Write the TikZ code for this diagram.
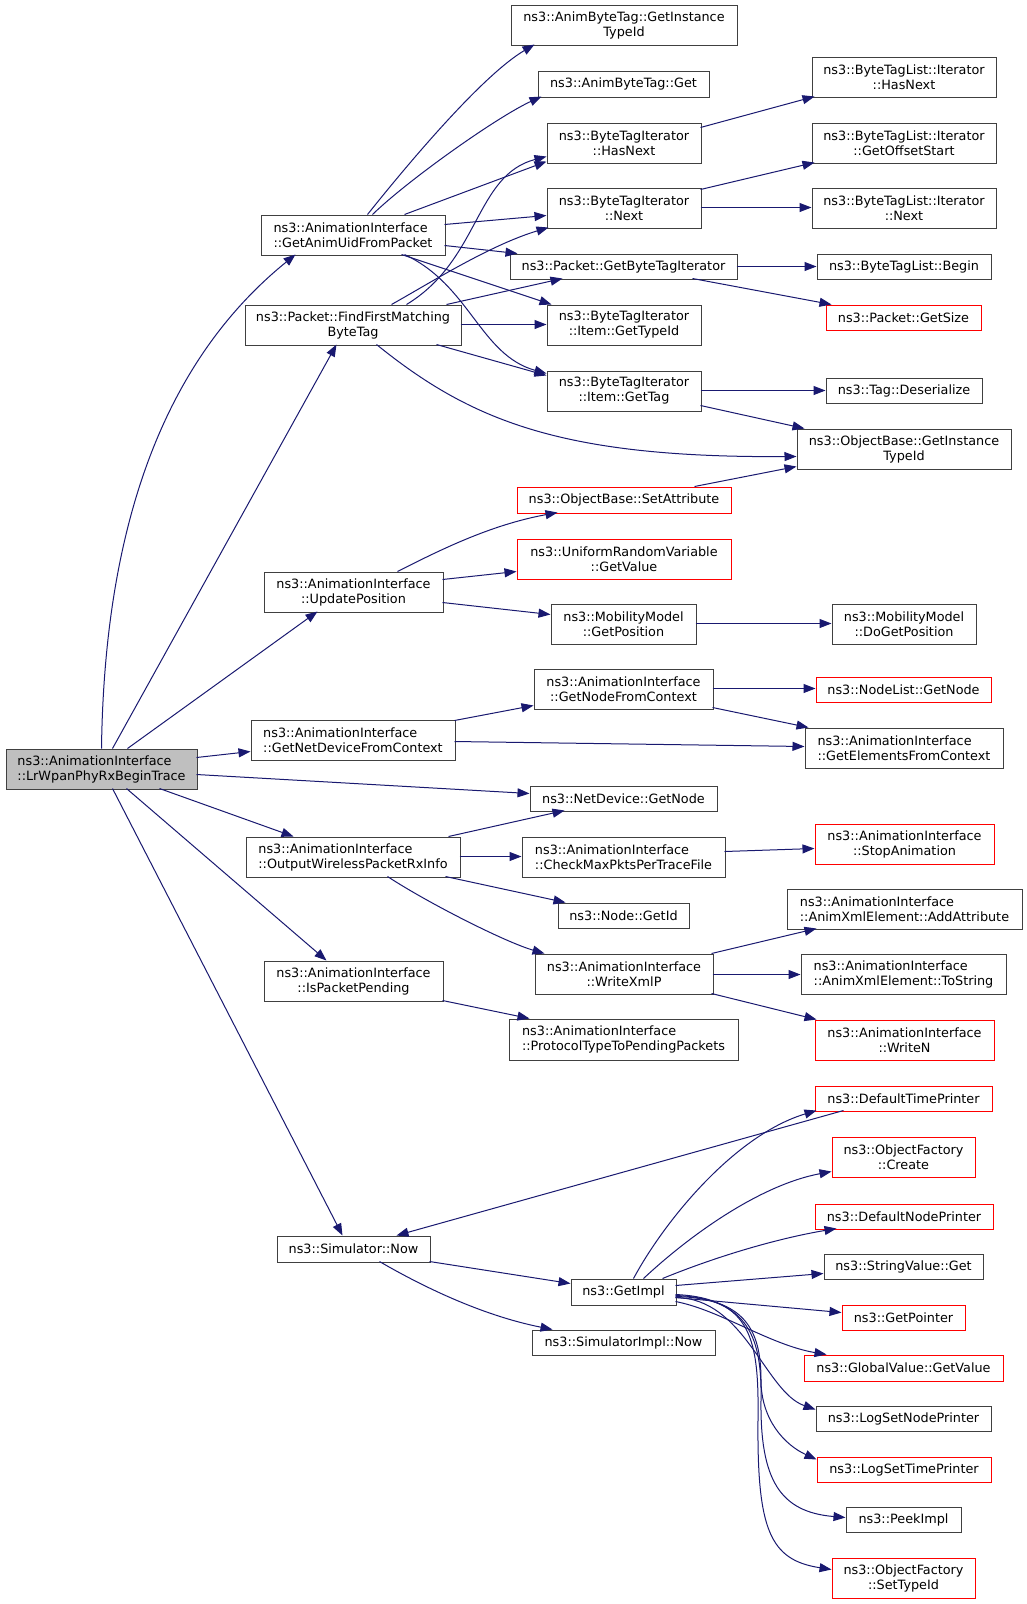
\documentclass[tikz,border=0pt]{standalone}
\usepackage{fontspec}
\setmainfont{DejaVu Sans}
\usetikzlibrary{arrows.meta}
\definecolor{ecol}{HTML}{191970}
\definecolor{bcol}{HTML}{404040}
\definecolor{lrgray}{HTML}{BFBFBF}
\definecolor{redc}{HTML}{FF0000}
\tikzset{
  box/.style={draw=bcol, line width=1pt, inner sep=0pt, align=center, font=\fontsize{12.8}{15}\selectfont},
  redbox/.style={draw=redc},
  calledge/.style={draw=ecol, line width=1pt, -{Triangle[length=12pt,width=9pt]}, fill=none}
}
\newcommand\bx[7][]{%
  \pgfmathsetmacro\bxcx{(#3+#5)/2}%
  \pgfmathsetmacro\bxcy{(#4+#6)/2}%
  \pgfmathsetmacro\bxw{#5-#3}%
  \pgfmathsetmacro\bxh{#6-#4}%
  \node[box,#1,minimum width=\bxw pt,minimum height=\bxh pt] (#2) at (\bxcx,\bxcy) {#7};%
}
\begin{document}
\begin{tikzpicture}[x=1pt,y=-1pt]
\fill[white] (0,0) rectangle (1027,1604);
\useasboundingbox (0,0) rectangle (1027,1604);
% column 1
\bx[fill=lrgray,align=left]{Lr}{6}{749}{197}{789}{ns3::AnimationInterface\\::LrWpanPhyRxBeginTrace}
% column 2
\bx[align=left]{GA}{261}{215}{445}{255}{ns3::AnimationInterface\\::GetAnimUidFromPacket}
\bx{FF}{245}{305}{461}{345}{ns3::Packet::FindFirstMatching\\ByteTag}
\bx{UP}{264}{572}{443}{612}{ns3::AnimationInterface\\::UpdatePosition}
\bx[align=left]{GND}{251}{720}{455}{760}{ns3::AnimationInterface\\::GetNetDeviceFromContext}
\bx[align=left]{OW}{246}{837}{460}{877}{ns3::AnimationInterface\\::OutputWirelessPacketRxInfo}
\bx{IPP}{264}{961}{443}{1001}{ns3::AnimationInterface\\::IsPacketPending}
\bx{SN}{277}{1236}{430}{1262}{ns3::Simulator::Now}
% column 3
\bx{ABI}{511}{5}{737}{45}{ns3::AnimByteTag::GetInstance\\TypeId}
\bx{ABG}{538}{71}{709}{97}{ns3::AnimByteTag::Get}
\bx{BHN}{547}{123}{701}{163}{ns3::ByteTagIterator\\::HasNext}
\bx{BN}{547}{188}{701}{228}{ns3::ByteTagIterator\\::Next}
\bx{PGB}{510}{254}{737}{279}{ns3::Packet::GetByteTagIterator}
\bx{IGT}{547}{305}{701}{345}{ns3::ByteTagIterator\\::Item::GetTypeId}
\bx{IGTag}{547}{371}{701}{411}{ns3::ByteTagIterator\\::Item::GetTag}
\bx[redbox]{SA}{517}{487}{731}{513}{ns3::ObjectBase::SetAttribute}
\bx[redbox]{URV}{517}{539}{731}{579}{ns3::UniformRandomVariable\\::GetValue}
\bx{MGP}{551}{604}{696}{644}{ns3::MobilityModel\\::GetPosition}
\bx{GNFC}{534}{669}{713}{709}{ns3::AnimationInterface\\::GetNodeFromContext}
\bx{NDG}{530}{786}{717}{811}{ns3::NetDevice::GetNode}
\bx[align=left]{CMP}{522}{837}{725}{877}{ns3::AnimationInterface\\::CheckMaxPktsPerTraceFile}
\bx{NGI}{558}{903}{689}{928}{ns3::Node::GetId}
\bx{WX}{535}{954}{713}{994}{ns3::AnimationInterface\\::WriteXmlP}
\bx[align=left]{PT}{509}{1019}{738}{1060}{ns3::AnimationInterface\\::ProtocolTypeToPendingPackets}
\bx{GI}{571}{1279}{676}{1305}{ns3::GetImpl}
\bx{SIN}{532}{1330}{715}{1355}{ns3::SimulatorImpl::Now}
% column 4
\bx{BLHN}{812}{57}{996}{97}{ns3::ByteTagList::Iterator\\::HasNext}
\bx{BLGO}{812}{123}{996}{163}{ns3::ByteTagList::Iterator\\::GetOffsetStart}
\bx{BLN}{812}{188}{996}{228}{ns3::ByteTagList::Iterator\\::Next}
\bx{BLB}{817}{254}{991}{279}{ns3::ByteTagList::Begin}
\bx[redbox]{PGS}{826}{305}{981}{330}{ns3::Packet::GetSize}
\bx{TD}{826}{378}{982}{403}{ns3::Tag::Deserialize}
\bx{OBI}{797}{429}{1011}{469}{ns3::ObjectBase::GetInstance\\TypeId}
\bx{DGP}{832}{604}{976}{644}{ns3::MobilityModel\\::DoGetPosition}
\bx[redbox]{NLG}{816}{677}{991}{702}{ns3::NodeList::GetNode}
\bx[align=left]{GEC}{805}{728}{1003}{768}{ns3::AnimationInterface\\::GetElementsFromContext}
\bx[redbox]{SAn}{815}{824}{994}{864}{ns3::AnimationInterface\\::StopAnimation}
\bx[align=left]{AA}{787}{889}{1022}{929}{ns3::AnimationInterface\\::AnimXmlElement::AddAttribute}
\bx[align=left]{TS}{801}{954}{1006}{994}{ns3::AnimationInterface\\::AnimXmlElement::ToString}
\bx[redbox]{WN}{815}{1020}{994}{1060}{ns3::AnimationInterface\\::WriteN}
\bx[redbox]{DTP}{815}{1086}{992}{1111}{ns3::DefaultTimePrinter}
\bx[redbox]{OFC}{832}{1137}{975}{1177}{ns3::ObjectFactory\\::Create}
\bx[redbox]{DNP}{815}{1204}{993}{1229}{ns3::DefaultNodePrinter}
\bx{SVG}{824}{1254}{983}{1279}{ns3::StringValue::Get}
\bx[redbox]{GP}{842}{1305}{965}{1330}{ns3::GetPointer}
\bx[redbox]{GVG}{804}{1355}{1003}{1381}{ns3::GlobalValue::GetValue}
\bx{LSN}{816}{1406}{991}{1431}{ns3::LogSetNodePrinter}
\bx[redbox]{LST}{817}{1457}{991}{1482}{ns3::LogSetTimePrinter}
\bx{PI}{846}{1507}{961}{1532}{ns3::PeekImpl}
\bx[redbox]{OFS}{832}{1558}{975}{1598}{ns3::ObjectFactory\\::SetTypeId}
% edges from Lr
\draw[calledge] ([shift={(96,0)}]Lr.north west) .. controls (105,480) and (190,340) .. ([shift={(35,40)}]GA.north west);
\draw[calledge] ([shift={(107,0)}]Lr.north west) -- ([shift={(92,40)}]FF.north west);
\draw[calledge] ([shift={(122,0)}]Lr.north west) -- ([shift={(54,40)}]UP.north west);
\draw[calledge] ([shift={(191,9)}]Lr.north west) -- ([shift={(0,32)}]GND.north west);
\draw[calledge] ([shift={(191,26)}]Lr.north west) -- ([shift={(0,8)}]NDG.north west);
\draw[calledge] ([shift={(154,40)}]Lr.north west) -- ([shift={(48,0)}]OW.north west);
\draw[calledge] ([shift={(121,40)}]Lr.north west) -- ([shift={(63,0)}]IPP.north west);
\draw[calledge] ([shift={(107,40)}]Lr.north west) -- ([shift={(66,0)}]SN.north west);
% edges from GA
\draw[calledge] ([shift={(107,0)}]GA.north west) .. controls (411,160) and (483,75) .. ([shift={(24,40)}]ABI.north west);
\draw[calledge] ([shift={(112,0)}]GA.north west) .. controls (408,180) and (497,117) .. ([shift={(4,26)}]ABG.north west);
\draw[calledge] ([shift={(144,0)}]GA.north west) -- ([shift={(0,39)}]BHN.north west);
\draw[calledge] ([shift={(184,10)}]GA.north west) -- ([shift={(0,28)}]BN.north west);
\draw[calledge] ([shift={(184,31)}]GA.north west) -- ([shift={(8,0)}]PGB.north west);
\draw[calledge] ([shift={(141,40)}]GA.north west) -- ([shift={(5,0)}]IGT.north west);
\draw[calledge] ([shift={(144,40)}]GA.north west) .. controls (470,285) and (480,355) .. ([shift={(0,3)}]IGTag.north west);
% edges from FF
\draw[calledge] ([shift={(162,0)}]FF.north west) .. controls (480,260) and (475,175) .. ([shift={(0,34)}]BHN.north west);
\draw[calledge] ([shift={(147,0)}]FF.north west) .. controls (430,283) and (490,245) .. ([shift={(2,40)}]BN.north west);
\draw[calledge] ([shift={(202,0)}]FF.north west) -- ([shift={(53,25)}]PGB.north west);
\draw[calledge] ([shift={(216,20)}]FF.north west) -- ([shift={(0,20)}]IGT.north west);
\draw[calledge] ([shift={(192,40)}]FF.north west) -- ([shift={(0,5)}]IGTag.north west);
\draw[calledge] ([shift={(132,40)}]FF.north west) .. controls (470,420) and (560,458) .. ([shift={(0,28)}]OBI.north west);
% column 3 -> column 4
\draw[calledge] ([shift={(154,20)}]IGTag.north west) -- ([shift={(0,13)}]TD.north west);
\draw[calledge] ([shift={(154,35)}]IGTag.north west) -- ([shift={(8,0)}]OBI.north west);
\draw[calledge] ([shift={(178,0)}]SA.north west) -- ([shift={(0,38)}]OBI.north west);
\draw[calledge] ([shift={(154,5)}]BHN.north west) -- ([shift={(3,40)}]BLHN.north west);
\draw[calledge] ([shift={(154,2)}]BN.north west) -- ([shift={(3,40)}]BLGO.north west);
\draw[calledge] ([shift={(154,20)}]BN.north west) -- ([shift={(0,20)}]BLN.north west);
\draw[calledge] ([shift={(227,13)}]PGB.north west) -- ([shift={(0,13)}]BLB.north west);
\draw[calledge] ([shift={(183,25)}]PGB.north west) -- ([shift={(6,0)}]PGS.north west);
% UpdatePosition
\draw[calledge] ([shift={(134,0)}]UP.north west) .. controls (440,550) and (490,525) .. ([shift={(41,26)}]SA.north west);
\draw[calledge] ([shift={(179,8)}]UP.north west) -- ([shift={(0,33)}]URV.north west);
\draw[calledge] ([shift={(179,31)}]UP.north west) -- ([shift={(0,11)}]MGP.north west);
\draw[calledge] ([shift={(145,20)}]MGP.north west) -- ([shift={(0,20)}]DGP.north west);
% GetNetDeviceFromContext
\draw[calledge] ([shift={(204,1)}]GND.north west) -- ([shift={(0,37)}]GNFC.north west);
\draw[calledge] ([shift={(204,22)}]GND.north west) -- ([shift={(0,19)}]GEC.north west);
\draw[calledge] ([shift={(179,20)}]GNFC.north west) -- ([shift={(0,12)}]NLG.north west);
\draw[calledge] ([shift={(179,39)}]GNFC.north west) -- ([shift={(4,0)}]GEC.north west);
% OutputWireless
\draw[calledge] ([shift={(203,0)}]OW.north west) -- ([shift={(35,25)}]NDG.north west);
\draw[calledge] ([shift={(214,20)}]OW.north west) -- ([shift={(0,20)}]CMP.north west);
\draw[calledge] ([shift={(200,40)}]OW.north west) -- ([shift={(8,0)}]NGI.north west);
\draw[calledge] ([shift={(142,40)}]OW.north west) .. controls (428,903) and (505,942) .. ([shift={(10,0)}]WX.north west);
\draw[calledge] ([shift={(203,15)}]CMP.north west) -- ([shift={(0,25)}]SAn.north west);
\draw[calledge] ([shift={(177,0)}]WX.north west) -- ([shift={(30,40)}]AA.north west);
\draw[calledge] ([shift={(178,21)}]WX.north west) -- ([shift={(0,21)}]TS.north west);
\draw[calledge] ([shift={(177,40)}]WX.north west) -- ([shift={(2,0)}]WN.north west);
\draw[calledge] ([shift={(179,40)}]IPP.north west) -- ([shift={(21,0)}]PT.north west);
% Simulator::Now
\draw[calledge] ([shift={(153,26)}]SN.north west) -- ([shift={(0,5)}]GI.north west);
\draw[calledge] ([shift={(103,26)}]SN.north west) .. controls (420,1285) and (480,1315) .. ([shift={(21,0)}]SIN.north west);
\draw[calledge] ([shift={(29,25)}]DTP.north west) -- ([shift={(120,0)}]SN.north west);
% GetImpl
\draw[calledge] ([shift={(63,0)}]GI.north west) .. controls (665,1220) and (735,1135) .. ([shift={(2,25)}]DTP.north west);
\draw[calledge] ([shift={(73,0)}]GI.north west) .. controls (690,1235) and (760,1185) .. ([shift={(0,35)}]OFC.north west);
\draw[calledge] ([shift={(92,0)}]GI.north west) .. controls (720,1255) and (780,1238) .. ([shift={(22,25)}]DNP.north west);
\draw[calledge] ([shift={(105,7)}]GI.north west) -- ([shift={(0,20)}]SVG.north west);
\draw[calledge] ([shift={(105,19)}]GI.north west) -- ([shift={(0,8)}]GP.north west);
\draw[calledge] ([shift={(105,23)}]GI.north west) .. controls (720,1310) and (770,1345) .. ([shift={(23,0)}]GVG.north west);
\draw[calledge] ([shift={(105,19)}]GI.north west) .. controls (745,1298) and (765,1392) .. ([shift={(0,4)}]LSN.north west);
\draw[calledge] ([shift={(105,18)}]GI.north west) .. controls (745,1298) and (761,1330) .. (761,1380) .. controls (761,1420) and (785,1445) .. ([shift={(0,3)}]LST.north west);
\draw[calledge] ([shift={(105,17)}]GI.north west) .. controls (750,1298) and (762,1340) .. (761,1400) .. controls (760,1480) and (780,1512) .. ([shift={(0,11)}]PI.north west);
\draw[calledge] ([shift={(105,16)}]GI.north west) .. controls (752,1298) and (759,1340) .. (758,1420) .. controls (757,1530) and (770,1560) .. ([shift={(0,12)}]OFS.north west);
\end{tikzpicture}
\end{document}
